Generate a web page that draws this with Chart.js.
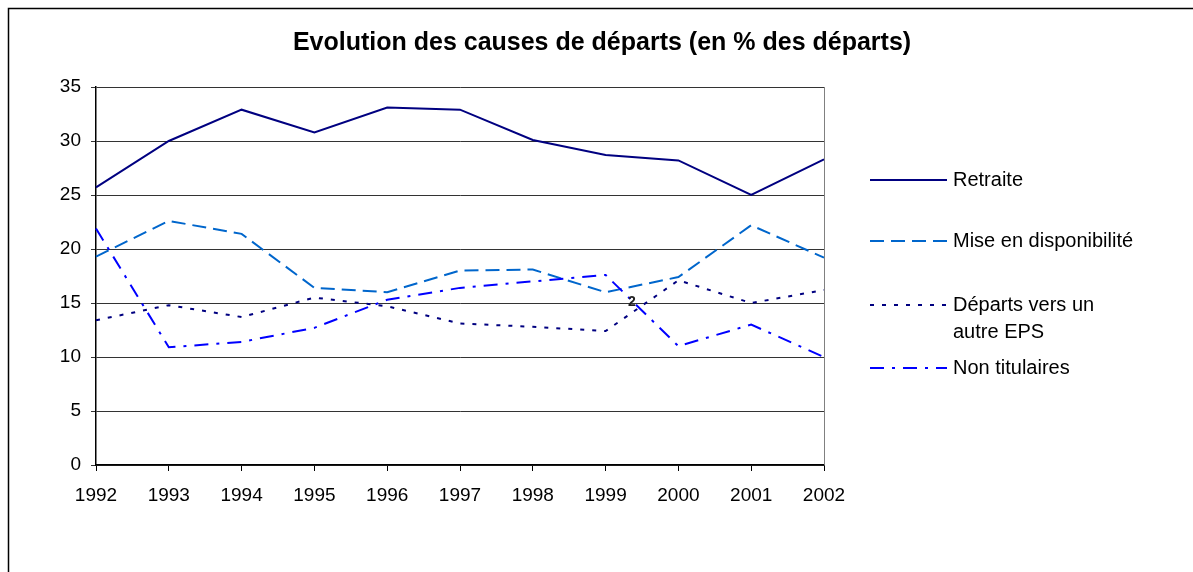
<!DOCTYPE html>
<html>
<head>
<meta charset="utf-8">
<script src="https://cdn.jsdelivr.net/npm/chart.js@4/dist/chart.umd.min.js"></script>
<style>
  html, body { margin: 0; padding: 0; background: #fff; }
  #wrap { position: relative; width: 1193px; height: 572px; }
</style>
</head>
<body>
<div id="wrap"><canvas id="c" width="1193" height="572"></canvas></div>
<script>
const years = ['1992','1993','1994','1995','1996','1997','1998','1999','2000','2001','2002'];
const retraite = [25.7, 30.0, 32.9, 30.8, 33.1, 32.9, 30.1, 28.7, 28.2, 25.0, 28.3];
const miseDispo = [19.3, 22.6, 21.4, 16.4, 16.0, 18.0, 18.1, 16.0, 17.4, 22.2, 19.2];
const departsEPS = [13.4, 14.8, 13.7, 15.5, 14.7, 13.1, 12.8, 12.4, 17.1, 15.0, 16.2];
const nonTitulaires = [21.9, 10.9, 11.4, 12.7, 15.3, 16.4, 17.0, 17.6, 11.0, 13.0, 10.0];
const yTicks = [0, 5, 10, 15, 20, 25, 30, 35];
const seriesNames = ['Retraite', 'Mise en disponibilité', 'Départs vers un\nautre EPS', 'Non titulaires'];
const titleText = 'Evolution des causes de départs (en % des départs)';
// stray data label visible in the original (between 1999 and 2000)
const strayLabel = { text: '2', index: 7.36, value: 15.1 };

const FONT = '"Liberation Sans", Arial, sans-serif';

const decorPlugin = {
  id: 'decor',
  afterDraw(chart) {
    const ctx = chart.ctx;
    const ca = chart.chartArea;
    ctx.save();
    // outer frame
    ctx.strokeStyle = '#000';
    ctx.lineWidth = 1.5;
    ctx.strokeRect(8.5, 8.5, 1400, 1000);
    // plot area right border
    ctx.strokeStyle = '#808080';
    ctx.lineWidth = 1;
    ctx.beginPath();
    ctx.moveTo(Math.round(ca.right) + 0.5, ca.top);
    ctx.lineTo(Math.round(ca.right) + 0.5, ca.bottom);
    ctx.stroke();
    // title
    ctx.fillStyle = '#000';
    ctx.font = 'bold 25px ' + FONT;
    ctx.textAlign = 'center';
    ctx.textBaseline = 'middle';
    ctx.fillText(titleText, 602, 43);
    // legend
    const legendY = [180, 241, 305, 368];
    chart.data.datasets.forEach((ds, i) => {
      const y = legendY[i];
      ctx.strokeStyle = ds.borderColor;
      ctx.lineWidth = ds.borderWidth;
      ctx.setLineDash(ds.borderDash || []);
      ctx.beginPath();
      ctx.moveTo(870, y);
      ctx.lineTo(947, y);
      ctx.stroke();
      ctx.setLineDash([]);
      ctx.fillStyle = '#000';
      ctx.font = '20px ' + FONT;
      ctx.textAlign = 'left';
      ctx.textBaseline = 'middle';
      String(ds.label).split('\n').forEach((line, k) => {
        ctx.fillText(line, 953, y + k * 27);
      });
    });
    // stray label
    const xs = chart.scales.x, ys = chart.scales.y;
    const i0 = Math.floor(strayLabel.index);
    const frac = strayLabel.index - i0;
    const px = xs.getPixelForValue(i0) + frac * (xs.getPixelForValue(i0 + 1) - xs.getPixelForValue(i0));
    const py = ys.getPixelForValue(strayLabel.value);
    ctx.font = 'bold 14px ' + FONT;
    ctx.fillStyle = '#222';
    ctx.textAlign = 'center';
    ctx.fillText(strayLabel.text, px, py);
    ctx.restore();
  }
};

new Chart(document.getElementById('c'), {
  type: 'line',
  data: {
    labels: years,
    datasets: [
      { label: seriesNames[0], data: retraite, borderColor: '#000080', borderWidth: 2, borderDash: [], order: 4 },
      { label: seriesNames[1], data: miseDispo, borderColor: '#0066CC', borderWidth: 2, borderDash: [14, 7], order: 3 },
      { label: seriesNames[2], data: departsEPS, borderColor: '#000080', borderWidth: 2, borderDash: [4, 8], order: 2 },
      { label: seriesNames[3], data: nonTitulaires, borderColor: '#0000FF', borderWidth: 2, borderDash: [14, 8, 3, 8], order: 1 }
    ]
  },
  options: {
    responsive: false,
    animation: false,
    events: [],
    layout: { padding: { top: 87, right: 369, left: 0, bottom: 0 } },
    elements: {
      point: { radius: 0 },
      line: { tension: 0, fill: false, borderCapStyle: 'butt' }
    },
    plugins: {
      legend: { display: false },
      title: { display: false },
      tooltip: { enabled: false }
    },
    scales: {
      x: {
        type: 'category',
        offset: false,
        grid: { drawOnChartArea: false, drawTicks: true, tickLength: 6, color: '#000' },
        border: { color: '#000', width: 1.5 },
        ticks: { color: '#000', font: { family: FONT, size: 19 }, padding: 13, maxRotation: 0, autoSkip: false },
        afterFit(s) { s.height = 107; }
      },
      y: {
        min: 0,
        max: 35,
        afterBuildTicks(s) { s.ticks = yTicks.map(v => ({ value: v })); },
        grid: { color: '#333', lineWidth: 1, tickLength: 5 },
        border: { color: '#000', width: 1.5 },
        ticks: { color: '#000', font: { family: FONT, size: 19 }, padding: 10 },
        afterFit(s) { s.width = 96; }
      }
    }
  },
  plugins: [decorPlugin]
});
</script>
</body>
</html>
